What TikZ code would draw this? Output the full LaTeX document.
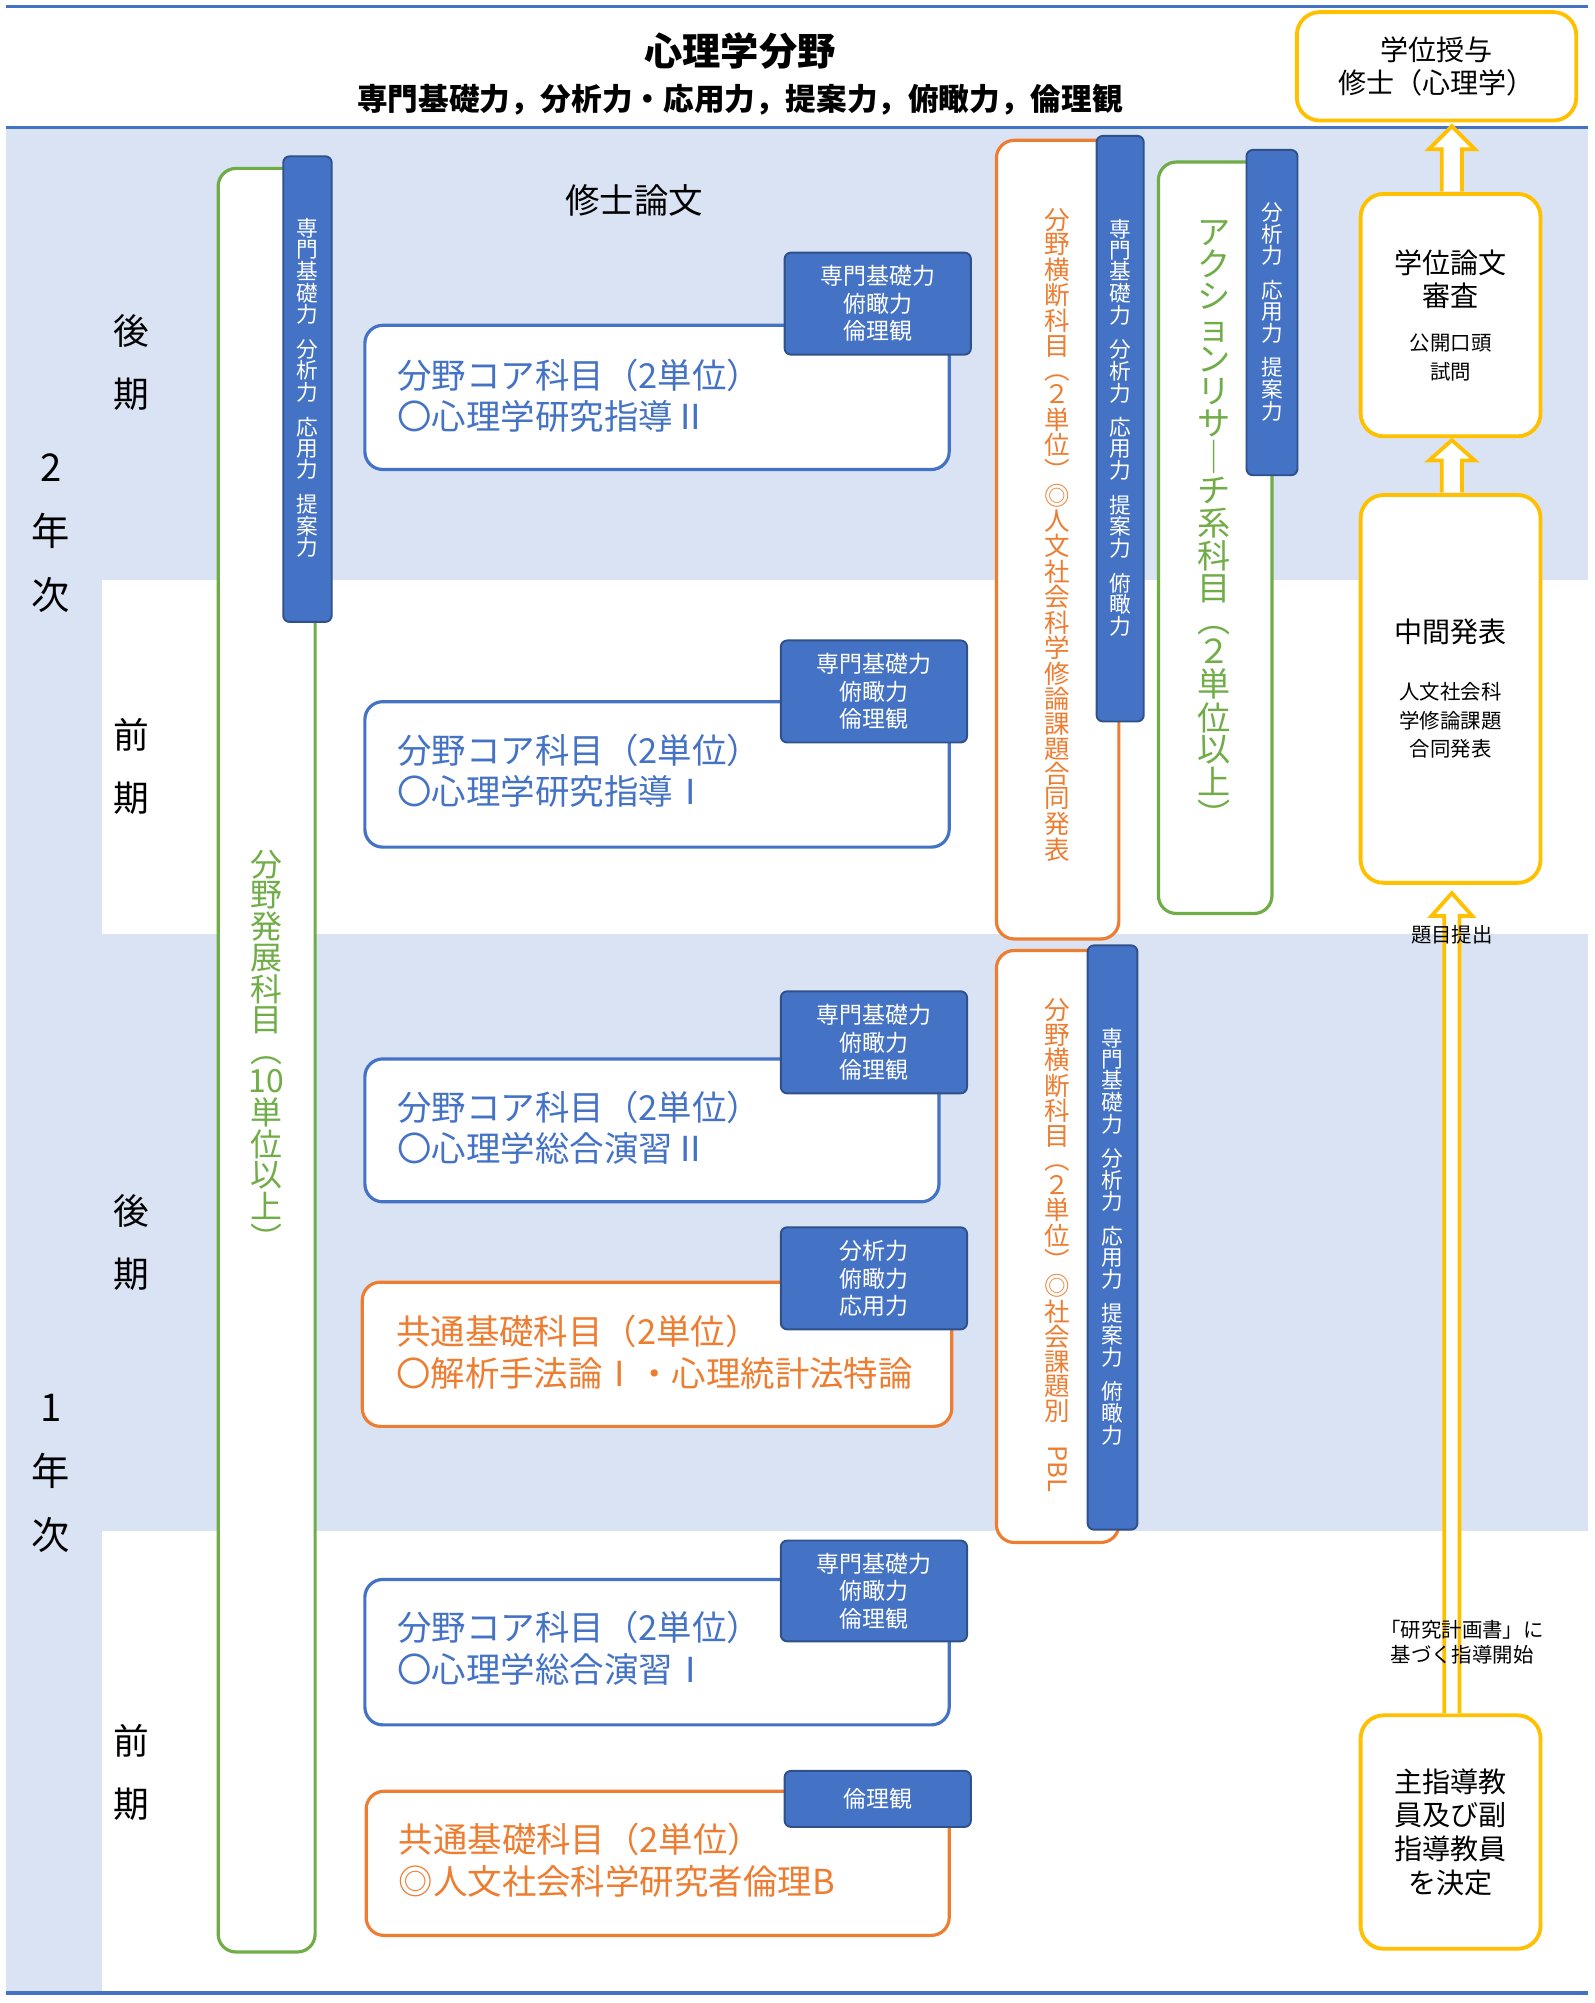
\documentclass[tikz,border=0pt]{standalone}
\usepackage{fontspec}
\setmainfont{Noto Sans CJK JP}
\usepackage{graphicx}
\definecolor{bgb}{HTML}{DAE3F3}
\definecolor{bl}{HTML}{4472C4}
\definecolor{tagb}{HTML}{4472C4}
\definecolor{og}{HTML}{ED7D31}
\definecolor{gr}{HTML}{70AD47}
\definecolor{yl}{HTML}{FFC000}
\newcommand\fs[1]{\fontsize{#1}{\dimexpr #1pt*6/5\relax}\selectfont}
\ExplSyntaxOn
\NewDocumentCommand\vt{m}{\vbox{\offinterlineskip\tl_map_inline:nn{#1}{\str_if_eq:nnTF{##1}{*}{\vskip 0.6em}{\hbox to 1.1em{\hss\vphantom{国}##1\hss}\kern 0.08em}}}}
\ExplSyntaxOff
\begin{document}
\begin{tikzpicture}[x=1pt,y=-1pt,
 box/.style={draw,line width=2.5pt,rounded corners=14pt,fill=white},
 tag/.style={draw=bl!70!black,fill=tagb,rounded corners=5pt,line width=1.5pt,text=white,align=center,font=\fs{18},inner sep=2pt},
 core/.style={anchor=west,align=left,font=\fs{27},text=bl},
 yb/.style={draw=yl,line width=3pt,rounded corners=18pt,fill=white,align=center,font=\fs{22}},
 harrow/.style={draw=yl,line width=3pt,fill=white,line join=miter}]
\useasboundingbox (0,0) rectangle (1250,1570);
\fill[white] (0,0) rectangle (1250,1570);
\fill[bgb] (5,100) rectangle (1245,1562);
\fill[white] (80,455) rectangle (1245,732);
\fill[white] (80,1200) rectangle (1245,1562);
\draw[bl,line width=2pt] (5,5)--(1245,5);
\draw[bl,line width=3pt] (5,100)--(1245,100);
\draw[bl,line width=3pt] (5,1562)--(1245,1562);
\node[font=\fs{30}\bfseries] (t1) at (580,40) {心理学分野};
\node[font=\fs{24}\bfseries] (t2) at (580,78) {専門基礎力，分析力・応用力，提案力，俯瞰力，倫理観};
% year labels
\node[font=\fs{30},align=center] (y2) at (40,418) {2\\[14pt]年\\[14pt]次};
\node[font=\fs{30},align=center] (y1) at (40,1155) {1\\[14pt]年\\[14pt]次};
\foreach \n/\y/\t in {a/284/後,b/601/前,c/974/後,d/1389/前}{
 \node[font=\fs{28},align=center] (h\n) at (103,\y) {\t\\[16pt]期};}
% green development
\draw[box,draw=gr] (171,132) rectangle (247,1530);
\node[text=gr,font=\fs{25}] (dev) at (209,825) {\vt{分野発展科目︵{10}単位以上︶}};
\node[tag,minimum width=38pt,minimum height=365pt,font=\fs{17}] (tagdev) at (241,305) {\vt{専門基礎力*分析力*応用力*提案力}};
\node[font=\fs{27}] (sr) at (497,157) {修士論文};
% core boxes
\draw[box,draw=bl] (286,255) rectangle (744,368); \node[core] (c1) at (308,310) {分野コア科目（2単位）\\〇心理学研究指導Ⅱ};
\node[tag,minimum width=146pt,minimum height=80pt] (g1) at (688,238) {専門基礎力\\俯瞰力\\倫理観};
\draw[box,draw=bl] (286,550) rectangle (744,664); \node[core] (c2) at (308,604) {分野コア科目（2単位）\\〇心理学研究指導Ⅰ};
\node[tag,minimum width=146pt,minimum height=80pt] (g2) at (685,542) {専門基礎力\\俯瞰力\\倫理観};
\draw[box,draw=bl] (286,830) rectangle (736,942); \node[core] (c3) at (308,884) {分野コア科目（2単位）\\〇心理学総合演習Ⅱ};
\node[tag,minimum width=146pt,minimum height=80pt] (g3) at (685,817) {専門基礎力\\俯瞰力\\倫理観};
\draw[box,draw=og] (284,1005) rectangle (746,1118); \node[core,text=og] (c4) at (307,1060) {共通基礎科目（2単位）\\〇解析手法論Ⅰ・心理統計法特論};
\node[tag,minimum width=146pt,minimum height=80pt] (g4) at (685,1002) {分析力\\俯瞰力\\応用力};
\draw[box,draw=bl] (286,1238) rectangle (744,1352); \node[core] (c5) at (308,1292) {分野コア科目（2単位）\\〇心理学総合演習Ⅰ};
\node[tag,minimum width=146pt,minimum height=79pt] (g5) at (685,1247) {専門基礎力\\俯瞰力\\倫理観};
\draw[box,draw=og] (287,1404) rectangle (744,1517); \node[core,text=og] (c6) at (309,1458) {共通基礎科目（2単位）\\◎人文社会科学研究者倫理B};
\node[tag,minimum width=146pt,minimum height=44pt] (g6) at (688,1410) {倫理観};
% cross-field
\draw[box,draw=og] (781,110) rectangle (877,736);
\node[text=og,font=\fs{20}] (x1) at (829,420) {\vt{分野横断科目︵２単位︶◎人文社会科学修論課題合同発表}};
\node[tag,minimum width=37pt,minimum height=459pt,font=\fs{17}] (gx1) at (878,336) {\vt{専門基礎力*分析力*応用力*提案力*俯瞰力}};
\draw[box,draw=gr] (908,127) rectangle (997,716);
\node[text=gr,font=\fs{26}] (ar) at (952,412) {\vt{アクションリサ｜チ系科目︵２単位以上︶}};
\node[tag,minimum width=40pt,minimum height=255pt,font=\fs{17}] (gar) at (997,245) {\vt{分析力*応用力*提案力}};
\draw[box,draw=og] (781,745) rectangle (877,1209);
\node[text=og,font=\fs{20}] (x2) at (829,977) {\vt{分野横断科目︵２単位︶◎社会課題別{\rotatebox{-90}{PBL}}}};
\node[tag,minimum width=39pt,minimum height=458pt,font=\fs{17}] (gx2) at (872,970) {\vt{専門基礎力*分析力*応用力*提案力*俯瞰力}};
% yellow
\node[yb,minimum width=219pt,minimum height=85pt] (deg) at (1126,52) {学位授与\\修士（心理学）};
\node[yb,minimum width=141pt,minimum height=190pt] (rev) at (1137,247) {学位論文\\審査\\[8pt]{\fs{16}公開口頭}\\[-4pt]{\fs{16}試問}};
\node[yb,minimum width=141pt,minimum height=304pt] (mid) at (1137,540) {中間発表\\[18pt]{\fs{16}人文社会科}\\[-4pt]{\fs{16}学修論課題}\\[-4pt]{\fs{16}合同発表}};
\node[yb,minimum width=141pt,minimum height=183pt] (sup) at (1137,1436) {主指導教\\員及び副\\指導教員\\を決定};
\draw[harrow] (1132,1343)--(1132,718)--(1122,718)--(1138,700)--(1154,718)--(1144,718)--(1144,1343);
\draw[harrow] (1130,386)--(1130,361)--(1120,361)--(1138,345)--(1156,361)--(1146,361)--(1146,386);
\draw[harrow] (1130,150)--(1130,117)--(1120,117)--(1138,99)--(1156,117)--(1146,117)--(1146,150);
\node[font=\fs{16}] (l1) at (1138,733) {題目提出};
\node[font=\fs{16},align=center] (l2) at (1146,1287) {「研究計画書」に\\基づく指導開始};
\end{tikzpicture}
\end{document}
